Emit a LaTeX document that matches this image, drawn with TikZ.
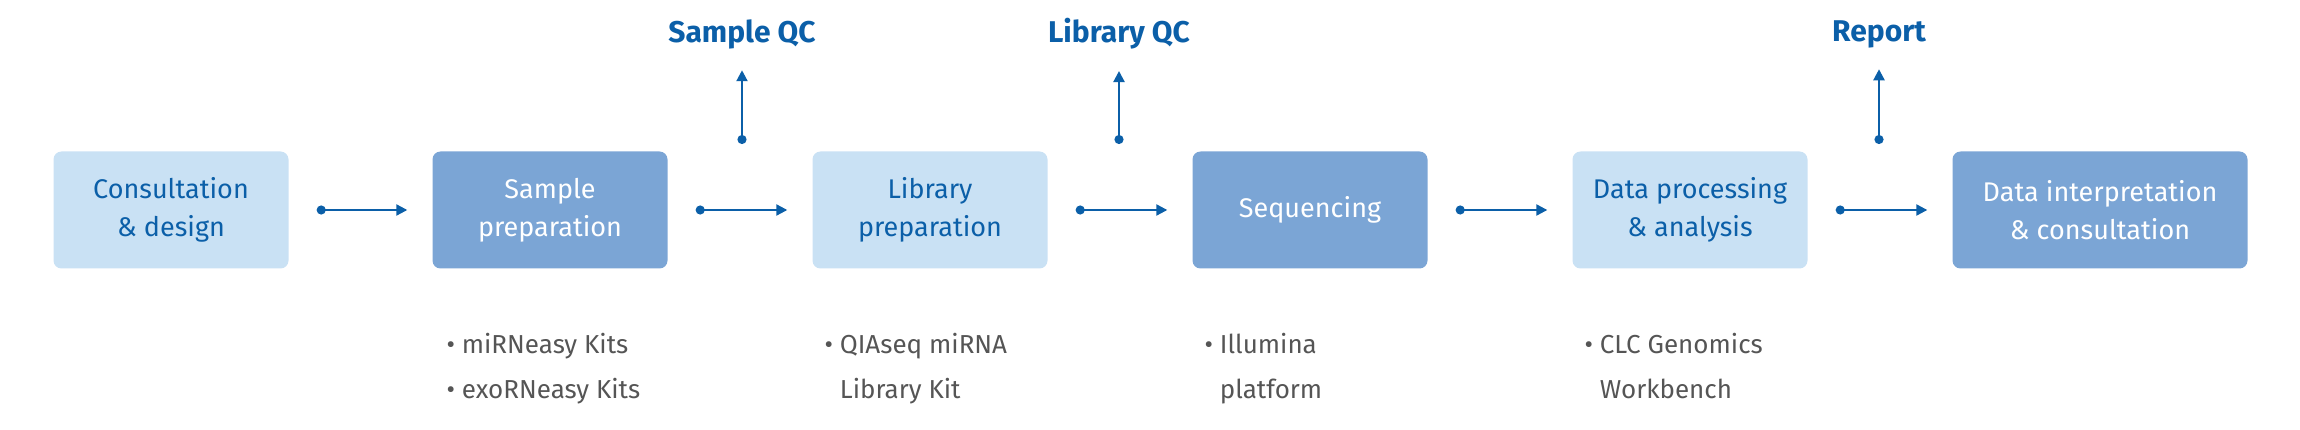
\documentclass[tikz,border=0pt]{standalone}
\usepackage{fontspec}
\setmainfont{Fira Sans}
\usetikzlibrary{positioning,arrows.meta}
\definecolor{qlight}{HTML}{C9E1F4}
\definecolor{qmid}{HTML}{7BA5D5}
\definecolor{qblue}{HTML}{0B5FA8}
\definecolor{qgray}{HTML}{555555}
\tikzset{
  stage/.style={rectangle,rounded corners=8pt,minimum width=235pt,minimum height=117pt,
    align=center,font=\fontsize{27}{38}\selectfont},
  light/.style={stage,fill=qlight,text=qblue},
  mid/.style={stage,fill=qmid,text=white},
  flow/.style={qblue,line width=2.2pt,{Circle[length=9pt]}-{Triangle[length=11pt,width=11pt]}},
  qc/.style={text=qblue,font=\fontsize{30}{32}\selectfont\bfseries},
  tool/.style={text=qgray,align=left,anchor=north west,font=\fontsize{26}{45}\selectfont}
}
\begin{document}
\begin{tikzpicture}[x=1pt,y=-1pt]
\useasboundingbox (0,0) rectangle (2300,430);
%stages
\node[light] (consult) at (171,210) {Consultation\\\& design};
\node[mid] (sample) at (550,210) {Sample\\preparation};
\node[light] (library) at (930,210) {Library\\preparation};
\node[mid] (seq) at (1310,210) {Sequencing};
\node[light] (data) at (1690,210) {Data processing\\\& analysis};
\node[mid,minimum width=295pt] (interp) at (2100,210) {Data interpretation\\\& consultation};
%flow arrows
\foreach \a/\b in {consult/sample,sample/library,library/seq,seq/data,data/interp}{
\draw[flow] ([xshift=28pt]\a.east) -- ([xshift=-25pt]\b.west);
}
%qc arrows
\foreach \x/\n/\t in {742/sqc/Sample QC,1119/lqc/Library QC,1879/rep/Report}{
\coordinate (\n b) at (\x,144);
\node[qc] (\n) at (\x,34) {\t};
\draw[flow] (\n b) -- ([yshift=-18pt]\n.south);
}
%tools
\node[tool] (t1) at (443,330) {• miRNeasy Kits\\• exoRNeasy Kits};
\node[tool] (t2) at (821,330) {• QIAseq miRNA\\\phantom{• }Library Kit};
\node[tool] (t3) at (1201,330) {• Illumina\\\phantom{• }platform};
\node[tool] (t4) at (1581,330) {• CLC Genomics\\\phantom{• }Workbench};
\end{tikzpicture}
\end{document}
